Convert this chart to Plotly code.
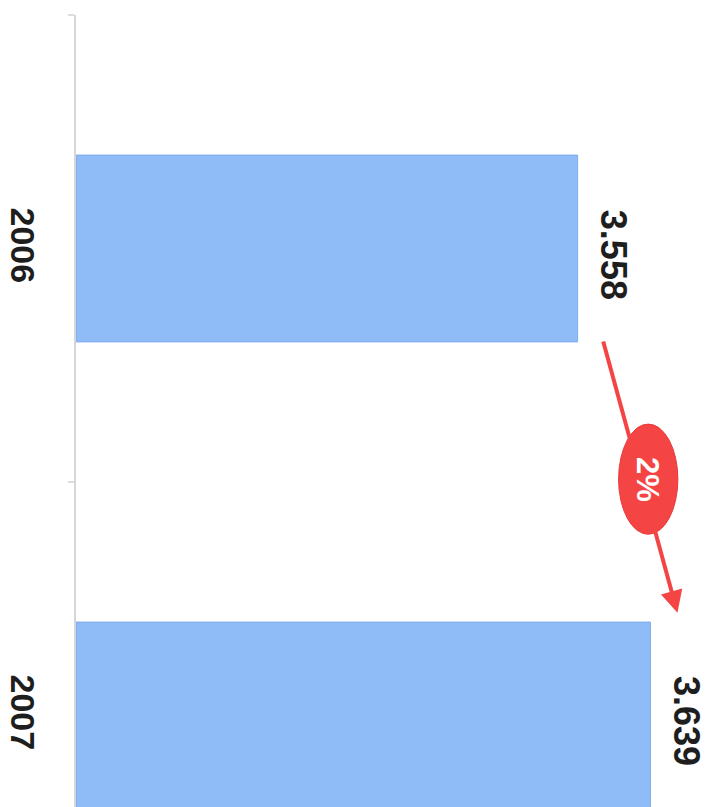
import plotly.graph_objects as go

years = ["2006", "2007"]
values = [3.558, 3.639]
value_labels = ["3.558", "3.639"]
change_label = "2%"
axis_base = 3.0

BAR_COLOR = "rgb(143,187,246)"
RED = "rgb(245,68,68)"
TEXT = "#1e1e1e"

fig = go.Figure()
fig.add_trace(go.Bar(
    y=years, x=[v - axis_base for v in values], base=axis_base,
    orientation="h", width=0.4,
    marker=dict(color=BAR_COLOR, line=dict(color="rgb(125,172,238)", width=1)),
    hoverinfo="skip",
))

# year labels (rotated); category axis -> use category index
for i, yr in enumerate(years):
    fig.add_annotation(x=0, xref="paper", y=i, yref="y", text=yr,
                       textangle=90, showarrow=False, xanchor="center",
                       yanchor="middle", xshift=-53, yshift=3,
                       font=dict(family="Liberation Sans", size=34, color=TEXT, weight="bold"))

# value labels (rotated)
for i, (v, lab) in enumerate(zip(values, value_labels)):
    fig.add_annotation(x=v, xref="x", y=i, yref="y", text=lab,
                       textangle=90, showarrow=False, xanchor="center",
                       yanchor="middle", xshift=36, yshift=-6,
                       font=dict(family="Liberation Sans", size=36, color=TEXT, weight="bold"))

# change arrow
x0 = values[0] + 0.028
x1 = values[1] + 0.030
fig.add_annotation(x=x1, y=0.78, xref="x", yref="y",
                   ax=x0, ay=0.196, axref="x", ayref="y",
                   text="", showarrow=True, arrowhead=2, arrowsize=1.1,
                   arrowwidth=4, arrowcolor=RED, standoff=0, startstandoff=0)
cx = (x0 + x1) / 2 + 0.009
cy = 0.494
fig.add_shape(type="circle", xref="x", yref="y",
              x0=cx - 0.033, x1=cx + 0.033, y0=cy - 0.118, y1=cy + 0.118,
              fillcolor=RED, line=dict(color="rgb(230,60,60)", width=1), layer="above")
fig.add_annotation(x=cx, y=cy, xref="x", yref="y", text=change_label,
                   textangle=90, showarrow=False,
                   font=dict(family="Liberation Sans", size=31, color="white", weight="bold"))

# the page body adds an 8px offset, so the figure is sized to fit inside it
fig.update_layout(
    width=708, height=799,
    margin=dict(l=68, r=0, t=7, b=0),
    paper_bgcolor="white", plot_bgcolor="white",
    showlegend=False,
    xaxis=dict(range=[axis_base, axis_base + 640 / 899], showgrid=False,
               showticklabels=False, zeroline=False, showline=False,
               automargin=False),
    yaxis=dict(range=[1.196, -0.5], type="category", showgrid=False,
               showticklabels=False, showline=True, linecolor="#d6d6d6",
               linewidth=2, ticks="outside", tickson="boundaries",
               ticklen=6, tickcolor="#dcdcdc", tickwidth=2, zeroline=False,
               automargin=False),
)

fig.write_html("out.html")
